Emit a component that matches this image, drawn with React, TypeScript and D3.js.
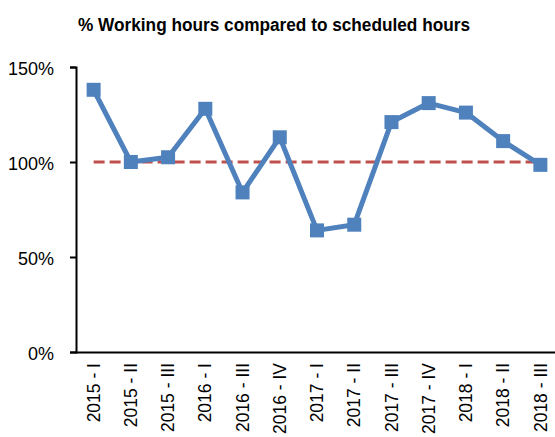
import React, { useEffect, useRef } from 'react';
import * as d3 from 'd3';

// quarters on the x axis
const periods = [
  '2015 - I', '2015 - II', '2015 - III', '2016 - I', '2016 - III', '2016 - IV',
  '2017 - I', '2017 - II', '2017 - III', '2017 - IV', '2018 - I', '2018 - II', '2018 - III',
];
// % of working hours vs scheduled hours
const ratios = [138, 100, 102.5, 128, 84, 113, 64, 67, 121, 131, 126, 111, 98.5];
const target = 100;
const yTicks = [0, 50, 100, 150];

const W = 555;
const H = 437;
const font = '"Liberation Sans", Arial, sans-serif';

const App = () => {
  const svgRef = useRef<SVGSVGElement>(null);

  useEffect(() => {
    const svg = d3.select(svgRef.current);
    svg.selectAll('*').remove();

    const x = d3.scaleBand().domain(periods).range([75, 559]);
    const y = d3.scaleLinear().domain([0, 150]).range([352, 67]);
    const cx = (d: string) => (x(d) as number) + x.bandwidth() / 2;

    // title
    svg.append('text')
      .attr('x', 274)
      .attr('y', 31)
      .attr('text-anchor', 'middle')
      .attr('textLength', 392)
      .attr('lengthAdjust', 'spacingAndGlyphs')
      .style('font-family', font)
      .style('font-weight', 'bold')
      .style('font-size', '18px')
      .text('% Working hours compared to scheduled hours');

    // y axis
    const yAxis = svg.append('g')
      .attr('transform', 'translate(76,0)')
      .call(d3.axisLeft(y).tickValues(yTicks).tickSize(6).tickPadding(16).tickFormat((d) => `${d}%`));
    yAxis.select('.domain').attr('stroke', '#000').attr('stroke-width', 2);
    yAxis.selectAll('.tick line').attr('stroke', '#000').attr('stroke-width', 2);
    yAxis.selectAll('.tick text')
      .attr('fill', '#000')
      .attr('dy', '0.4em')
      .style('font-family', font)
      .style('font-size', '18px');

    // x axis
    const xAxis = svg.append('g')
      .attr('transform', 'translate(0,352)')
      .call(d3.axisBottom(x).tickSize(0).tickPadding(0));
    xAxis.select('.domain').attr('stroke', '#000').attr('stroke-width', 2);
    xAxis.selectAll('.tick text')
      .attr('fill', '#000')
      .attr('transform', 'rotate(-90)')
      .attr('text-anchor', 'end')
      .attr('x', -11)
      .attr('y', 0)
      .attr('dy', '0.35em')
      .style('font-family', font)
      .style('font-size', '17.5px');

    // reference line at 100%
    svg.append('line')
      .attr('x1', cx(periods[0]))
      .attr('x2', cx(periods[periods.length - 1]))
      .attr('y1', y(target))
      .attr('y2', y(target))
      .attr('stroke', '#C0504D')
      .attr('stroke-width', 3)
      .attr('stroke-dasharray', '11 5');

    // series line
    const line = d3.line<number>()
      .x((_, i) => cx(periods[i]))
      .y((d) => y(d));

    svg.append('path')
      .datum(ratios)
      .attr('d', line)
      .attr('fill', 'none')
      .attr('stroke', '#4F81BD')
      .attr('stroke-width', 5)
      .attr('stroke-linejoin', 'round');

    // square markers
    svg.selectAll('rect.marker')
      .data(ratios)
      .enter()
      .append('rect')
      .attr('class', 'marker')
      .attr('x', (_, i) => cx(periods[i]) - 7)
      .attr('y', (d) => y(d) - 7)
      .attr('width', 14)
      .attr('height', 14)
      .attr('fill', '#4F81BD');
  }, []);

  return (
    <svg ref={svgRef} width={W} height={H} style={{ position: 'absolute', left: 0, top: 0, background: '#fff' }} />
  );
};

export default App;
